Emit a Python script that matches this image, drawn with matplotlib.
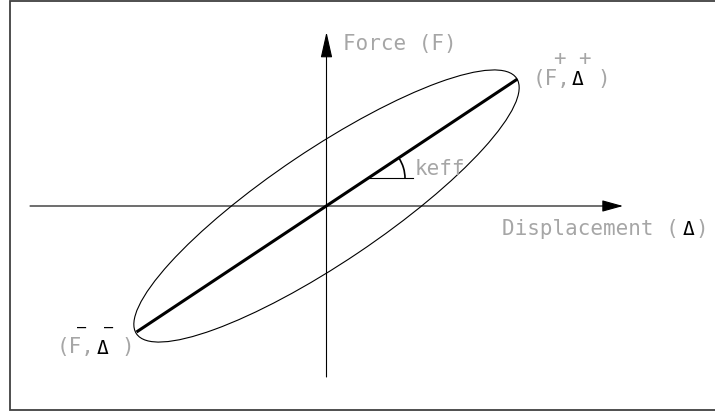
import numpy as np
import matplotlib.pyplot as plt
from matplotlib.patches import Ellipse, Arc

# effective stiffness line: peak points (F-, D-) and (F+, D+)
peak_disp = [-190, 191]
peak_force = [-126, 127]

# hysteresis loop (rotated ellipse)
loop_length = 458
loop_width = 113
loop_angle = 33.9

# labels
x_label = "Displacement ("
y_label = "Force (F)"
k_label = "keff"

gray = "#a6a6a6"
mono = "DejaVu Sans Mono"
fs = 15

fig = plt.figure(figsize=(7.15, 4.12), dpi=100)
ax = fig.add_axes([0, 0, 1, 1])
ax.set_xlim(-326.5, 388.5)
ax.set_ylim(-206, 206)
ax.axis("off")

# frame (right edge is off the picture)
ax.plot([400, -317, -317, 400], [205.5, 205.5, -203.5, -203.5],
        color="#404040", lw=1.3, solid_joinstyle="miter", clip_on=False)

# axes with arrows
ax.annotate("", xy=(296.5, 0), xytext=(-296.5, 0),
            arrowprops=dict(arrowstyle="-|>,head_length=1.3,head_width=0.36",
                            color="black", lw=0.8, shrinkA=0, shrinkB=0,
                            mutation_scale=10))
ax.annotate("", xy=(0, 174), xytext=(0, -171),
            arrowprops=dict(arrowstyle="-|>,head_length=1.6,head_width=0.36",
                            color="black", lw=0.8, shrinkA=0, shrinkB=0,
                            mutation_scale=10))

# loop and stiffness line
ax.add_patch(Ellipse((0, 0), loop_length, loop_width, angle=loop_angle,
                     fill=False, color="black", lw=0.8))
ax.plot(peak_disp, peak_force, color="black", lw=2.2, solid_capstyle="butt")

# keff angle marker
slope = peak_force[1] / peak_disp[1]
x0 = 41.5
y0 = slope * x0
ax.plot([x0, x0 + 45], [y0, y0], color="black", lw=0.8)
ax.add_patch(Arc((x0, y0), 74, 74, theta1=0, theta2=float(np.degrees(np.arctan(slope))),
                 color="black", lw=1.2))

# texts
ax.text(16.5, 156, y_label, family=mono, fontsize=fs, color=gray)
ax.text(175.5, -29, x_label, family=mono, fontsize=fs, color=gray)
ax.text(175.5 + 14 * 12.9, -29, "\u0394", family=mono, fontsize=fs - 1, color="black")
ax.text(175.5 + 15 * 12.9, -29, ")", family=mono, fontsize=fs, color=gray)
ax.text(88.5, 31, k_label, family=mono, fontsize=fs, color=gray)

# (F+, D+)
ax.text(206.5, 121, "(F,", family=mono, fontsize=fs, color=gray)
ax.text(245.5, 121, "\u0394", family=mono, fontsize=fs - 1, color="black")
ax.text(271, 121, ")", family=mono, fontsize=fs, color=gray)
ax.text(232.5, 147, "+", family=mono, fontsize=fs, color=gray, ha="center", va="center")
ax.text(257.5, 147, "+", family=mono, fontsize=fs, color=gray, ha="center", va="center")

# (F-, D-)
ax.text(-269.5, -147.5, "(F,", family=mono, fontsize=fs, color=gray)
ax.text(-230, -147.5, "\u0394", family=mono, fontsize=fs - 1, color="black")
ax.text(-205, -147.5, ")", family=mono, fontsize=fs, color=gray)
ax.text(-244.5, -119.5, "\u2013", family=mono, fontsize=11, color="black",
        ha="center", va="center_baseline")
ax.text(-217.5, -119.5, "\u2013", family=mono, fontsize=11, color="black",
        ha="center", va="center_baseline")

fig.savefig("out.png", dpi=100)
